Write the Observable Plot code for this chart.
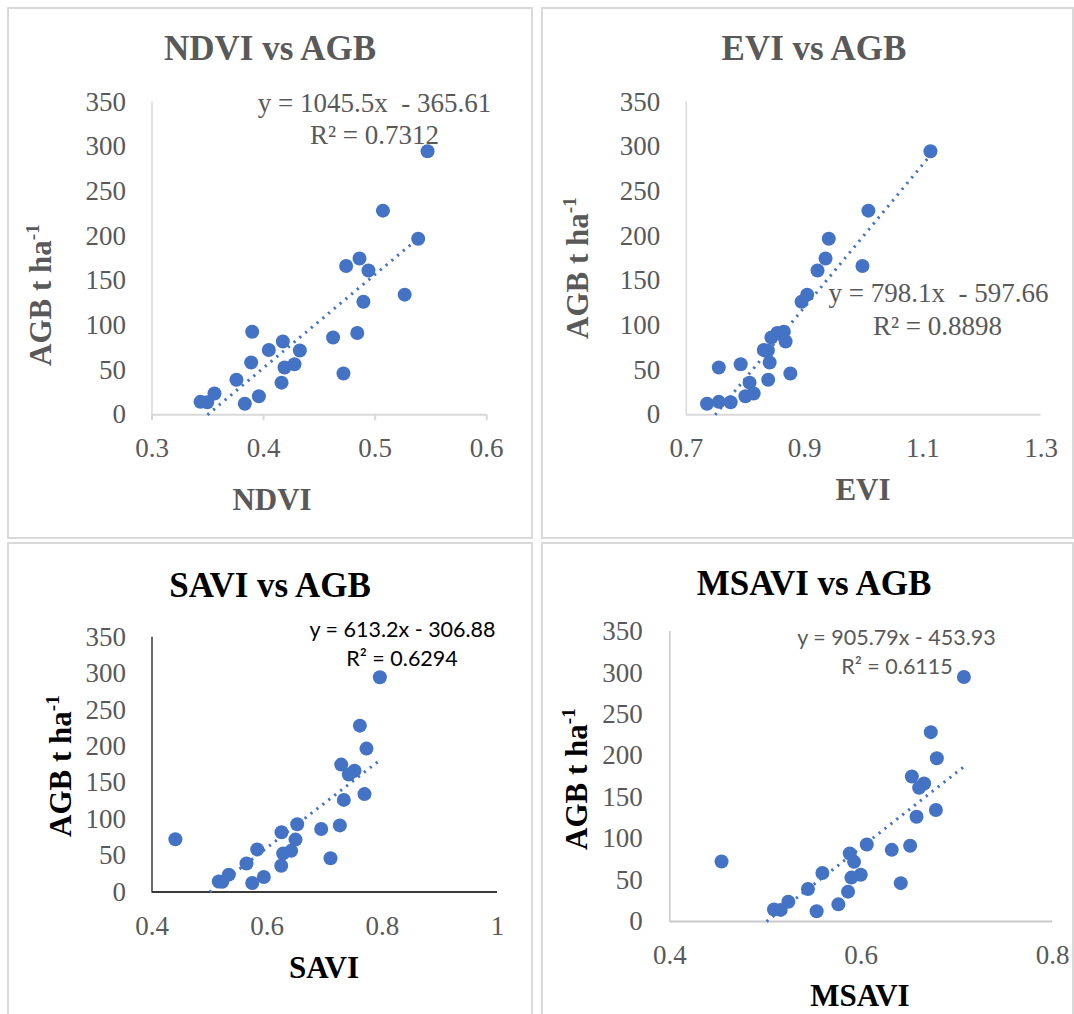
<!DOCTYPE html>
<html>
<head>
<meta charset="utf-8">
<script src="https://cdn.jsdelivr.net/npm/d3@7"></script>
<script src="https://cdn.jsdelivr.net/npm/@observablehq/plot@0.6"></script>
<style>
  body { margin: 0; background: #fff; }
  #root { position: relative; width: 1074px; height: 1014px; overflow: hidden; background: #fff; }
  .box { position: absolute; border: 2px solid #d9d9d9; box-sizing: border-box; }
  .plot { position: absolute; }
  .t { position: absolute; white-space: pre; line-height: 1; transform: translate(-50%, -50%); }
  .serif { font-family: "Liberation Serif", "Times New Roman", serif; }
  .sans { font-family: Lato, "Liberation Sans", sans-serif; }
  .rot { transform: translate(-50%, -50%) rotate(-90deg); }
</style>
</head>
<body>
<div id="root"></div>
<script>
// ---- data ----
const agb = [295, 228.5, 197, 175, 166.5, 161.5, 134.5, 126.5, 93, 91.5, 86.5, 82, 72.5, 72,
             58.5, 56.5, 53, 46.3, 39.2, 36, 23.8, 20.7, 14.5, 14, 12.3];
const ndvi = [0.547, 0.507, 0.5386, 0.486, 0.474, 0.494, 0.5265, 0.4895, 0.3898, 0.484, 0.4623, 0.4173, 0.4047, 0.4325,
              0.3889, 0.4277, 0.4188, 0.4716, 0.3757, 0.4161, 0.356, 0.3958, 0.3435, 0.3495, 0.3832];
const evi = [1.113, 1.008, 0.941, 0.9355, 0.998, 0.922, 0.9045, 0.895, 0.865, 0.854, 0.844, 0.868, 0.831, 0.838,
             0.841, 0.792, 0.755, 0.876, 0.8385, 0.807, 0.814, 0.800, 0.755, 0.775, 0.735];
const savi = [0.7957, 0.761, 0.7725, 0.7286, 0.7517, 0.7418, 0.769, 0.7331, 0.6522, 0.7262, 0.6938, 0.6249, 0.4406, 0.6492,
              0.5827, 0.6417, 0.6278, 0.71, 0.5641, 0.6244, 0.5334, 0.5942, 0.516, 0.522, 0.574];
const msavi = [0.7074, 0.6728, 0.6791, 0.653, 0.6658, 0.6606, 0.6781, 0.6579, 0.6059, 0.6512, 0.632, 0.5881, 0.4541, 0.5926,
               0.5595, 0.5996, 0.5898, 0.6414, 0.5444, 0.5863, 0.5239, 0.5762, 0.5089, 0.5159, 0.5535];
const yTicks = [0, 50, 100, 150, 200, 250, 300, 350];
const ndviTicks = [0.3, 0.4, 0.5, 0.6];
const eviTicks = [0.7, 0.9, 1.1, 1.3];
const saviTicks = [0.4, 0.6, 0.8, 1];
const msaviTicks = [0.4, 0.6, 0.8];
const slopes = [1045.5, 798.1, 613.2, 905.79];
const intercepts = [-365.61, -597.66, -306.88, -453.93];
const trendEnds = [0.54, 1.11, 0.795, 0.707];   // where each dotted trendline stops
const equations = ["y = 1045.5x  - 365.61", "y = 798.1x  - 597.66", "y = 613.2x - 306.88", "y = 905.79x - 453.93"];
const r2 = ["R² = 0.7312", "R² = 0.8898", "R² = 0.6294", "R² = 0.6115"];
const titles = ["NDVI vs AGB", "EVI vs AGB", "SAVI vs AGB", "MSAVI vs AGB"];
const xLabels = ["NDVI", "EVI", "SAVI", "MSAVI"];

const root = document.getElementById("root");
const BLUE = "#4472C4";
const GRAY = "#595959";

function addBox(l, t, w, h) {
  const d = document.createElement("div");
  d.className = "box";
  Object.assign(d.style, {left: l + "px", top: t + "px", width: w + "px", height: h + "px"});
  root.appendChild(d);
}
function addText(html, x, y, cls, style) {
  const d = document.createElement("div");
  d.className = "t " + cls;
  d.innerHTML = html;
  d.style.left = x + "px";
  d.style.top = y + "px";
  Object.assign(d.style, style || {});
  root.appendChild(d);
}

function panel(p) {
  const data = agb.map((y, i) => ({x: p.xs[i], y}));
  const x0 = Math.max(d3.min(p.xs), -p.b / p.m);
  const x1 = p.xEnd;
  const trend = [x0, x1].map(x => ({x, y: p.m * x + p.b}));
  const chart = Plot.plot({
    width: p.w, height: p.h,
    marginLeft: p.ml, marginRight: p.mr, marginTop: p.mt, marginBottom: p.mb,
    x: {domain: p.xDomain},
    y: {domain: [0, 350]},
    style: {fontFamily: '"Liberation Serif", "Times New Roman", serif', fontSize: "27px", color: GRAY, background: "transparent", overflow: "visible"},
    marks: [
      Plot.ruleX([p.xDomain[0]], {stroke: p.yAxisColor, strokeWidth: p.yAxisWidth}),
      Plot.ruleY([0], {stroke: p.xAxisColor, strokeWidth: p.xAxisWidth}),
      Plot.axisX({ticks: p.xTicks, tickFormat: d => String(d), tickSize: p.tickSize, tickPadding: p.xPad,
                  stroke: p.xAxisColor, strokeWidth: 2, fill: GRAY, label: null}),
      Plot.axisY({ticks: yTicks, tickSize: 0, tickPadding: p.yPad, fill: GRAY, label: null}),
      Plot.dot(data, {x: "x", y: "y", r: 7, fill: BLUE, stroke: "none"}),
      Plot.line(trend, {x: "x", y: "y", stroke: BLUE, strokeWidth: 3, strokeDasharray: "2.2,5.3", strokeLinecap: "butt"})
    ]
  });
  chart.classList.add("plot");
  chart.style.left = p.left + "px";
  chart.style.top = p.top + "px";
  root.appendChild(chart);
}

// panel frames
addBox(7, 7, 526, 532);
addBox(541, 7, 533, 532);
addBox(7, 542, 526, 480);
addBox(541, 542, 533, 480);

panel({left: 0, top: 0, w: 540, h: 540, ml: 151.5, mr: 53.8, mt: 101.6, mb: 125.7,
       xDomain: [0.3, 0.6], xTicks: ndviTicks, xs: ndvi, m: slopes[0], b: intercepts[0], xEnd: trendEnds[0],
       xAxisColor: "#d9d9d9", yAxisColor: "#d9d9d9", xAxisWidth: 2, yAxisWidth: 1.5, tickSize: 6, xPad: 17.5, yPad: 26});
panel({left: 535, top: 0, w: 539, h: 540, ml: 150.8, mr: 33.5, mt: 101.6, mb: 125.7,
       xDomain: [0.7, 1.3], xTicks: eviTicks, xs: evi, m: slopes[1], b: intercepts[1], xEnd: trendEnds[1],
       xAxisColor: "#d9d9d9", yAxisColor: "#d9d9d9", xAxisWidth: 2, yAxisWidth: 1.5, tickSize: 0, xPad: 23.5, yPad: 26});
panel({left: 0, top: 535, w: 540, h: 479, ml: 151.5, mr: 43, mt: 101.7, mb: 122.5,
       xDomain: [0.4, 1], xTicks: saviTicks, xs: savi, m: slopes[2], b: intercepts[2], xEnd: trendEnds[2],
       xAxisColor: "#3a3a3a", yAxisColor: "#3a3a3a", xAxisWidth: 1.8, yAxisWidth: 1.5, tickSize: 0, xPad: 23.5, yPad: 26});
panel({left: 535, top: 535, w: 539, h: 479, ml: 134.3, mr: 22, mt: 96, mb: 93,
       xDomain: [0.4, 0.8], xTicks: msaviTicks, xs: msavi, m: slopes[3], b: intercepts[3], xEnd: trendEnds[3],
       xAxisColor: "#cacaca", yAxisColor: "#cacaca", xAxisWidth: 2.2, yAxisWidth: 1.5, tickSize: 0, xPad: 23.5, yPad: 27});

// titles
const titleStyle = {fontWeight: "bold", fontSize: "35px"};
addText(titles[0], 270, 48, "serif", {...titleStyle, color: GRAY});
addText(titles[1], 814, 48, "serif", {...titleStyle, color: GRAY});
addText(titles[2], 270, 585, "serif", {...titleStyle, color: "#000"});
addText(titles[3], 814, 583, "serif", {...titleStyle, color: "#000"});

// x axis titles
const axStyle = {fontWeight: "bold", fontSize: "31px"};
addText(xLabels[0], 272, 499, "serif", {...axStyle, color: GRAY});
addText(xLabels[1], 863, 489, "serif", {...axStyle, color: GRAY});
addText(xLabels[2], 324, 967, "serif", {...axStyle, color: "#000"});
addText(xLabels[3], 860, 995, "serif", {...axStyle, color: "#000"});

// y axis titles
const yt = 'AGB t ha<span style="font-size:0.62em;position:relative;top:-0.62em">-1</span>';
addText(yt, 40, 295, "serif rot", {...axStyle, color: GRAY});
addText(yt, 577, 268, "serif rot", {...axStyle, color: GRAY});
addText(yt, 60, 766, "serif rot", {...axStyle, color: "#000"});
addText(yt, 576, 779, "serif rot", {...axStyle, color: "#000"});

// equations
const eqSerif = {fontSize: "27px", color: GRAY};
addText(equations[0], 374.5, 103, "serif", eqSerif);
addText(r2[0], 374.5, 135, "serif", eqSerif);
addText(equations[1], 938.5, 293, "serif", eqSerif);
addText(r2[1], 937.5, 325.5, "serif", eqSerif);
addText(equations[2], 402.5, 630, "sans", {fontSize: "21.5px", color: "#000"});
addText(r2[2], 402, 658.5, "sans", {fontSize: "21.5px", color: "#000"});
addText(equations[3], 896.5, 638, "sans", {fontSize: "21.5px", color: GRAY});
addText(r2[3], 897, 667, "sans", {fontSize: "21.5px", color: GRAY});
</script>
</body>
</html>
